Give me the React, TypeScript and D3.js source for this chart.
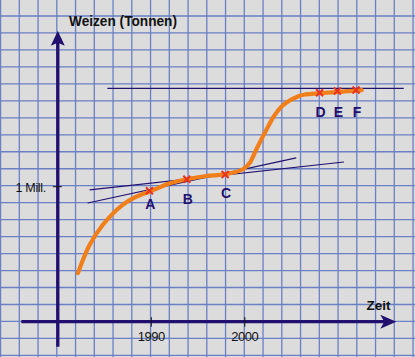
import React from "react";
import * as d3 from "d3";

// ---- data (years, million tonnes) ----
const curveYears = [1982.15, 1983.4, 1984.8, 1986.9, 1988.4, 1989.8, 1992.0, 1993.8, 1995.9, 1997.9, 1999.8, 2000.5, 2001.2, 2002.3, 2003.2, 2004.1, 2005.8, 2006.5, 2007.9, 2009.7, 2011.8, 2012.5];
const curveValues = [0.36, 0.568, 0.716, 0.864, 0.926, 0.963, 1.025, 1.055, 1.079, 1.092, 1.129, 1.173, 1.272, 1.42, 1.531, 1.605, 1.672, 1.684, 1.692, 1.701, 1.711, 1.716];

const pointLabels = ["A", "B", "C", "D", "E", "F"];
const pointYears = [1989.8, 1993.8, 1997.9, 2008.0, 2009.9, 2011.9];
const pointValues = [0.97, 1.055, 1.09, 1.696, 1.709, 1.716];

// secant / reference lines: [year1, value1, year2, value2]
const refLines = [
  [1983.4, 0.976, 2010.6, 1.183],
  [1983.2, 0.879, 2005.5, 1.213],
  [1985.3, 1.729, 2017.0, 1.729],
];

const xTickYears = [1990, 2000];
const xTickLabels = ["1990", "2000"];
const yTickValues = [1];
const yTickLabels = ["1 Mill."];

const yAxisTitle = "Weizen (Tonnen)";
const xAxisTitle = "Zeit";

const W = 415;
const H = 357;

export default function App() {
  const x = d3.scaleLinear().domain([1990, 2000]).range([151.3, 244.8]);
  const y = d3.scaleLinear().domain([0, 1]).range([321.7, 186.7]);

  const axisColor = "#22106e";
  const gridColor = "#6a7fc4";

  const gridX = d3.range(0, 23).map((k) => 0.55 + 18.75 * k);
  const gridY = d3.range(0, 21).map((k) => 16 + 16.97 * k);

  const line = d3
    .line<number>()
    .x((_, i) => x(curveYears[i]))
    .y((_, i) => y(curveValues[i]))
    .curve(d3.curveCatmullRom.alpha(0.5));

  const ax0 = x(1980);
  const ay0 = y(0);
  const yTop = y(2.156);
  const yBottom = y(-0.185);
  const xLeft = x(1976.1);
  const xRight = x(2016.2);

  const labelDy = [18, 24.5, 23, 24, 25.7, 26.7];

  return (
    <svg
      width={W}
      height={H}
      style={{ position: "absolute", left: 0, top: 0, background: "#dcdcdc" }}
      fontFamily="'Liberation Sans', Arial, sans-serif"
    >
      <rect x={0} y={0} width={W} height={H} fill="#dcdcdc" />
      {gridX.map((gx, i) => (
        <line key={"gx" + i} x1={gx} x2={gx} y1={0} y2={H} stroke={gridColor} strokeWidth={1.3} />
      ))}
      {gridY.map((gy, i) => (
        <line key={"gy" + i} x1={0} x2={W} y1={gy} y2={gy} stroke={gridColor} strokeWidth={1.3} />
      ))}

      {/* axes */}
      <line x1={ax0} x2={ax0} y1={yBottom} y2={yTop + 8} stroke={axisColor} strokeWidth={3.3} />
      <path
        d={`M${ax0},${yTop} L${ax0 + 7},${yTop + 15} L${ax0},${yTop + 12} L${ax0 - 7},${yTop + 15} Z`}
        fill={axisColor}
      />
      <line x1={xLeft} x2={xRight - 8} y1={ay0} y2={ay0} stroke={axisColor} strokeWidth={3.3} />
      <path
        d={`M${xRight},${ay0} L${xRight - 16},${ay0 - 7} L${xRight - 12},${ay0} L${xRight - 16},${ay0 + 7} Z`}
        fill={axisColor}
      />

      {/* ticks */}
      {xTickYears.map((t, i) => (
        <g key={"xt" + i}>
          <line x1={x(t)} x2={x(t)} y1={ay0 - 4.5} y2={ay0 + 5} stroke="#111" strokeWidth={1} />
          <text x={x(t)} y={340.5} textAnchor="middle" fontSize={13} fill="#111" letterSpacing={-0.5}>
            {xTickLabels[i]}
          </text>
        </g>
      ))}
      {yTickValues.map((v, i) => (
        <g key={"yt" + i}>
          <line x1={ax0 - 5} x2={ax0 + 4} y1={y(v)} y2={y(v)} stroke="#111" strokeWidth={1} />
          <text x={46} y={y(v) + 5} textAnchor="end" fontSize={12.5} fill="#111" letterSpacing={-0.3}>
            {yTickLabels[i]}
          </text>
        </g>
      ))}

      <text x={69} y={26} fontSize={14} fontWeight="bold" fill="#111" textLength={108} lengthAdjust="spacingAndGlyphs">
        {yAxisTitle}
      </text>
      <text x={366.5} y={310} fontSize={13.5} fontWeight="bold" fill="#111">
        {xAxisTitle}
      </text>

      {/* reference lines */}
      {refLines.map((l, i) => (
        <line key={"rl" + i} x1={x(l[0])} y1={y(l[1])} x2={x(l[2])} y2={y(l[3])} stroke={axisColor} strokeWidth={1.2} />
      ))}

      {/* curve */}
      <path d={line(curveValues) || ""} fill="none" stroke="#f07f1a" strokeWidth={4.2} strokeLinecap="round" />

      {/* markers and labels */}
      {pointLabels.map((lab, i) => {
        const px = x(pointYears[i]);
        const py = y(pointValues[i]);
        return (
          <g key={"p" + i}>
            <path
              d={`M${px - 3.5},${py - 3.5} L${px + 3.5},${py + 3.5} M${px + 3.5},${py - 3.5} L${px - 3.5},${py + 3.5}`}
              stroke="#e8321e"
              strokeWidth={2}
            />
            <text x={px + 1} y={py + labelDy[i]} textAnchor="middle" fontSize={14} fontWeight="bold" fill={axisColor}>
              {lab}
            </text>
          </g>
        );
      })}
    </svg>
  );
}
